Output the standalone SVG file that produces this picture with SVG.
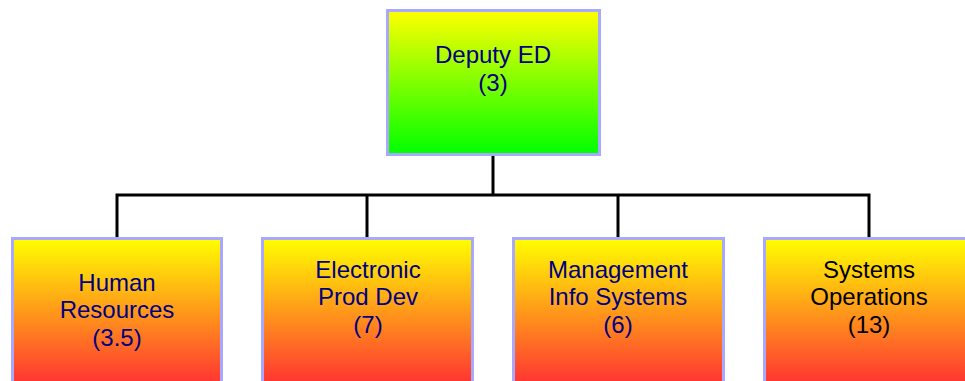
<svg xmlns="http://www.w3.org/2000/svg" width="965" height="381" viewBox="0 0 965 381">
  <defs>
    <linearGradient id="gradGreen" x1="0" y1="0" x2="0" y2="1">
      <stop offset="0" stop-color="#ffff00"/>
      <stop offset="1" stop-color="#00ff00"/>
    </linearGradient>
    <linearGradient id="gradRed" x1="0" y1="0" x2="0" y2="1">
      <stop offset="0" stop-color="#ffff00"/>
      <stop offset="1" stop-color="#ff3333"/>
    </linearGradient>
  </defs>
  <style>
    .box { stroke: #a8a8ff; stroke-width: 3; }
    .top { fill: url(#gradGreen); }
    .unit { fill: url(#gradRed); }
    .lbl { font-family: "Liberation Sans", Arial, sans-serif; font-size: 24px; fill: #000080; text-anchor: middle; }
    .dark { fill: #000000; }
    .wire { stroke: #000000; stroke-width: 3; fill: none; }
  </style>
  <rect width="965" height="381" fill="#ffffff"/>

  <g id="connectors">
    <line class="wire" x1="493" y1="155" x2="493" y2="195"/>
    <path class="wire" d="M117,237 V195 H869 V237"/>
    <line class="wire" x1="367" y1="195" x2="367" y2="237"/>
    <line class="wire" x1="618" y1="195" x2="618" y2="237"/>
  </g>

  <g id="deputy-ed">
    <rect class="box top" x="387.5" y="10.5" width="212" height="144"/>
    <text class="lbl" x="493" y="63">Deputy ED</text>
    <text class="lbl" x="493" y="91">(3)</text>
  </g>

  <g id="human-resources">
    <rect class="box unit" x="12.5" y="238.5" width="209" height="146"/>
    <text class="lbl" x="117" y="291">Human</text>
    <text class="lbl" x="117" y="318">Resources</text>
    <text class="lbl" x="117" y="346">(3.5)</text>
  </g>

  <g id="electronic-prod-dev">
    <rect class="box unit" x="262.5" y="238.5" width="210" height="146"/>
    <text class="lbl" x="368" y="278">Electronic</text>
    <text class="lbl" x="368" y="305">Prod Dev</text>
    <text class="lbl" x="368" y="333">(7)</text>
  </g>

  <g id="management-info-systems">
    <rect class="box unit" x="513.5" y="238.5" width="210" height="146"/>
    <text class="lbl" x="618" y="278">Management</text>
    <text class="lbl" x="618" y="305">Info Systems</text>
    <text class="lbl" x="618" y="333">(6)</text>
  </g>

  <g id="systems-operations">
    <rect class="box unit" x="764.5" y="238.5" width="210" height="146"/>
    <text class="lbl dark" x="869" y="278">Systems</text>
    <text class="lbl dark" x="869" y="305">Operations</text>
    <text class="lbl dark" x="869" y="333">(13)</text>
  </g>
</svg>
